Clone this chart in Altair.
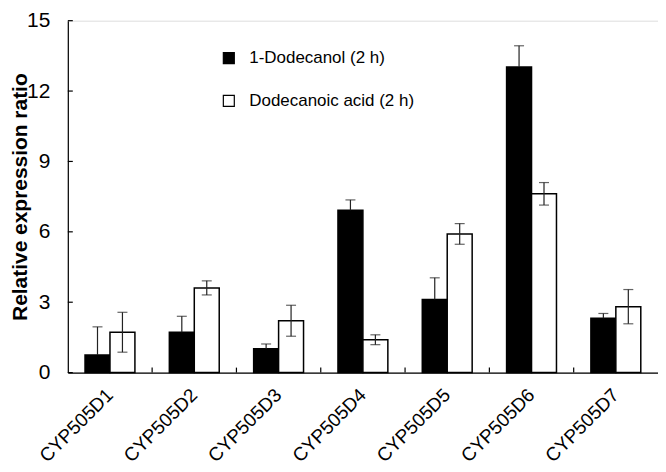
import altair as alt
import pandas as pd

genes = ["CYP505D1", "CYP505D2", "CYP505D3", "CYP505D4", "CYP505D5", "CYP505D6", "CYP505D7"]
series = ["1-Dodecanol (2 h)", "Dodecanoic acid (2 h)"]
dodecanol = [0.75, 1.72, 1.02, 6.92, 3.12, 13.03, 2.32]
dodecanol_err = [1.2, 0.68, 0.2, 0.44, 0.92, 0.9, 0.2]
acid = [1.72, 3.61, 2.21, 1.40, 5.91, 7.62, 2.81]
acid_err = [0.85, 0.3, 0.66, 0.21, 0.44, 0.48, 0.73]
y_ticks = [0, 3, 6, 9, 12, 15]

rows = []
for g, v, e in zip(genes, dodecanol, dodecanol_err):
    # lower whisker hidden inside the black bar
    rows.append({"gene": g, "series": series[0], "value": v, "lo": v, "hi": v + e, "low_cap": 0})
for g, v, e in zip(genes, acid, acid_err):
    rows.append({"gene": g, "series": series[1], "value": v, "lo": v - e, "hi": v + e, "low_cap": 1})
df = pd.DataFrame(rows)
tick_df = pd.DataFrame({"value": y_ticks})
bound_df = pd.DataFrame({"gene": genes[1:]})

W, H = 592, 353
FONT = "Liberation Sans"

x_enc = alt.X("gene:N", sort=genes,
              scale=alt.Scale(domain=genes, paddingInner=0, paddingOuter=0),
              axis=alt.Axis(title=None, labelAngle=-45, labelAlign="right",
                            labelBaseline="middle", labelPadding=19,
                            labelFontSize=19, labelFont=FONT, labelColor="black",
                            ticks=False, domainColor="black", domainWidth=1.2))
xo_enc = alt.XOffset("series:N", sort=series,
                     scale=alt.Scale(domain=series, paddingInner=0, paddingOuter=0.69))
y_scale = alt.Scale(domain=[0, 15], nice=False)
y_enc = alt.Y("value:Q", scale=y_scale,
              axis=alt.Axis(values=y_ticks, ticks=False, grid=False,
                            title="Relative expression ratio",
                            titleFont=FONT, titleFontSize=21, titleFontWeight="bold",
                            titleColor="black", titleX=-37,
                            labelFont=FONT, labelFontSize=21, labelColor="black",
                            labelPadding=18, domainColor="black", domainWidth=1.2))

bars = alt.Chart(df).mark_bar(stroke="black", strokeWidth=1.5).encode(
    x=x_enc, xOffset=xo_enc, y=y_enc,
    fill=alt.Fill("series:N", sort=series,
                  scale=alt.Scale(domain=series, range=["black", "white"]),
                  legend=alt.Legend(title=None, orient="none", legendX=153, legendY=29,
                                    symbolType="square", symbolSize=121,
                                    symbolStrokeColor="black", symbolStrokeWidth=1.2,
                                    labelFont=FONT, labelFontSize=17, labelColor="black",
                                    labelLimit=400,
                                    labelOffset=12, rowPadding=25, padding=0)),
)

err_rule = alt.Chart(df).mark_rule(color="#222", strokeWidth=1.2).encode(
    x=alt.X("gene:N", sort=genes), xOffset=xo_enc,
    y=alt.Y("lo:Q", scale=y_scale), y2="hi:Q",
)
err_top = alt.Chart(df).mark_tick(color="#222", thickness=1.2, size=10, orient="horizontal").encode(
    x=alt.X("gene:N", sort=genes), xOffset=xo_enc, y=alt.Y("hi:Q", scale=y_scale),
)
err_bot = alt.Chart(df).transform_filter("datum.low_cap == 1").mark_tick(
    color="#222", thickness=1.2, size=10, orient="horizontal").encode(
    x=alt.X("gene:N", sort=genes), xOffset=xo_enc, y=alt.Y("lo:Q", scale=y_scale),
)

ytick_marks = alt.Chart(tick_df).mark_rule(color="black", strokeWidth=1.2).encode(
    y=alt.Y("value:Q", scale=y_scale), x=alt.value(0), x2=alt.value(5),
)
xtick_marks = alt.Chart(bound_df).mark_rule(color="black", strokeWidth=1.2).encode(
    x=alt.X("gene:N", sort=genes, bandPosition=0), y=alt.value(H), y2=alt.value(H - 5),
)

chart = alt.layer(bars, err_rule, err_top, err_bot, ytick_marks, xtick_marks).properties(
    width=W, height=H,
    autosize=alt.AutoSizeParams(type="none"),
    padding={"left": 60, "top": 12, "right": 0, "bottom": 100},
).configure_view(stroke=None).configure(background="white")

chart.save("out.html", embed_options={"renderer": "svg", "actions": False})
